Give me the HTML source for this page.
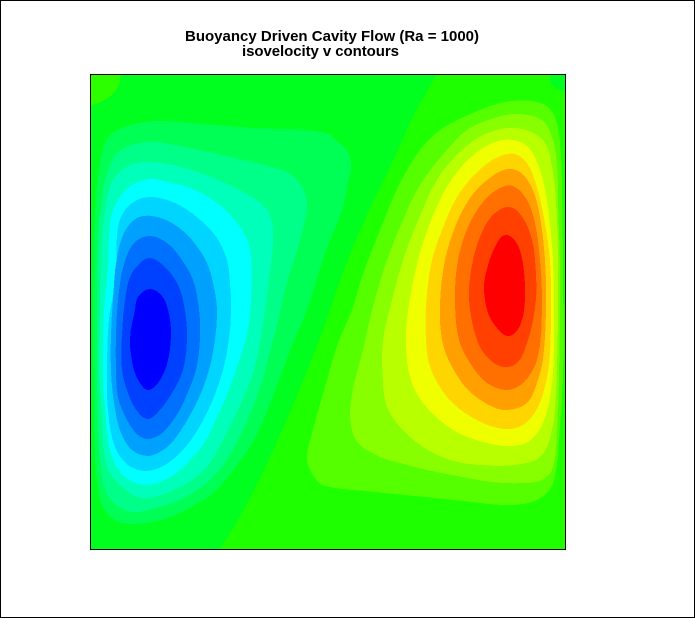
<!DOCTYPE html>
<html>
<head>
<meta charset="utf-8">
<title>Buoyancy Driven Cavity Flow</title>
<style>
html,body{margin:0;padding:0;background:#fff}
svg{display:block}
text{font-family:"Liberation Sans",Arial,sans-serif;font-weight:bold;font-size:15px;fill:#000}
</style>
</head>
<body>
<svg id="chart" xmlns="http://www.w3.org/2000/svg" width="695" height="618" viewBox="0 0 695 618">
  <rect x="0.5" y="0.5" width="694" height="617" fill="#fff" stroke="#000"/>
  <text x="185" y="41" textLength="294" lengthAdjust="spacing">Buoyancy Driven Cavity Flow (Ra = 1000)</text>
  <text x="242" y="56" textLength="157" lengthAdjust="spacing">isovelocity v contours</text>
  <g id="plot" shape-rendering="crispEdges"></g>
  <rect x="90.5" y="74.5" width="475" height="475" fill="none" stroke="#000"/>
</svg>
<script>
// Cavity coordinates are in grid units: x and y run 0..475, y measured upward from the floor.
const cavityDomain = [0, 475];

// Zero isoline, running from the floor to the lid.
const zeroLine = [[129,0],[151,36],[181,96],[207,156],[227,206],[239,239],[254,282],[277,336],[301,386],[324,436],[346,475]];
// Small corner cells.
const cornerLeftCurve = [[30,475],[27,462],[17,451],[0,443]];
const cornerRightCurve = [[459,475],[461,464],[475,457]];

// Negative v isolines (descending flow, left side), outermost to innermost.
const vNeg1 = [[17,411],[31,421],[54,427],[71,428],[111,425],[161,421],[234,416],[247,407],[257,397],[260,382],[257,366],[251,339],[234,296],[216,239],[202,206],[187,166],[173,130],[163,109],[147,85],[122,56],[100,42],[77,31],[44,25],[24,29],[12,42],[7,62],[4,89],[3,139],[2,206],[3,312],[6,362],[11,396]];
const vNeg2 = [[19,384],[27,397],[41,404],[61,407],[94,402],[144,391],[181,382],[201,374],[211,362],[216,347],[214,329],[207,302],[194,259],[188,232],[177,190],[165,150],[147,109],[125,75],[95,52],[61,40],[41,37],[24,45],[14,59],[10,79],[7,122],[6,206],[7,312],[11,352]];
const vNeg3 = [[14,339],[21,367],[31,379],[46,386],[61,387],[94,381],[127,369],[154,356],[174,342],[181,326],[182,306],[179,279],[174,239],[163,179],[150,146],[132,109],[114,80],[85,60],[51,51],[29,64],[16,82],[11,129],[8,179],[9,240],[10,292]];
const vNeg4 = [[17,279],[18,312],[21,336],[29,352],[41,364],[59,370],[77,367],[104,359],[131,342],[151,319],[159,299],[160,249],[156,215],[145,179],[134,150],[125,130],[115,109],[100,90],[81,73],[54,64],[34,72],[21,92],[14,139],[12,179],[13,240]];
const vNeg5 = [[25,272],[27,322],[34,339],[46,349],[61,352],[84,346],[107,331],[126,311],[136,289],[139,266],[140,240],[138,210],[132,179],[120,145],[100,109],[77,86],[56,78],[37,84],[24,102],[17,139],[16,179],[18,230]];
const vNeg6 = [[22,250],[26,292],[34,318],[46,331],[61,333],[81,326],[101,309],[116,286],[122,266],[126,240],[124,210],[118,179],[105,145],[83,109],[72,99],[57,93],[41,99],[30,116],[23,146],[20,179],[20,215]];
const vNeg7 = [[27,249],[33,285],[44,307],[59,313],[76,306],[91,289],[102,269],[108,240],[109,210],[105,179],[97,157],[87,136],[71,116],[57,110],[47,114],[36,129],[27,152],[25,179],[25,215]];
const vNeg8 = [[34,249],[39,272],[49,286],[59,291],[74,282],[86,266],[92,249],[96,215],[92,179],[81,156],[67,137],[56,130],[44,141],[36,159],[31,179],[31,215]];
const vNeg9 = [[44,239],[47,252],[59,260],[71,253],[77,239],[80,216],[76,185],[67,166],[57,159],[49,166],[43,179],[39,210]];

// Positive v isolines (rising flow, right side), outermost to innermost.
const vPos1 = [[261,239],[271,272],[289,319],[309,366],[329,399],[349,419],[384,437],[414,447],[441,448],[457,442],[465,429],[469,406],[471,362],[472,279],[472,172],[469,122],[464,72],[457,57],[441,47],[414,44],[381,47],[334,52],[284,57],[234,63],[227,67],[219,79],[216,92],[221,116],[234,162],[247,206]];
const vPos2 = [[281,239],[296,289],[309,322],[329,364],[356,399],[376,419],[400,430],[425,435],[451,429],[461,412],[466,386],[467,346],[469,279],[468,172],[466,122],[461,79],[451,69],[434,66],[401,67],[361,74],[336,79],[309,86],[289,92],[267,106],[261,119],[259,139],[264,169],[272,199]];
const vPos3 = [[300,245],[312,289],[326,326],[347,371],[369,397],[392,414],[425,421],[452,409],[461,382],[466,326],[467,239],[465,159],[461,119],[449,92],[422,84],[389,84],[359,89],[332,102],[309,122],[296,142],[292,166],[292,209]];
const vPos4 = [[318,245],[327,289],[339,326],[357,364],[379,391],[404,407],[422,409],[437,402],[449,379],[457,342],[462,289],[463,235],[461,166],[452,126],[437,107],[417,103],[392,107],[362,119],[332,146],[319,172],[315,209]];
const vPos5 = [[335,245],[341,289],[351,319],[366,352],[386,377],[407,392],[424,395],[436,386],[446,362],[454,326],[459,289],[460,240],[459,195],[456,172],[447,142],[432,124],[412,120],[382,131],[356,152],[339,182],[335,209]];
const vPos6 = [[349,245],[354,289],[364,322],[379,351],[396,369],[416,380],[429,377],[441,361],[449,332],[454,289],[455,240],[452,190],[447,169],[436,146],[417,139],[402,142],[377,159],[359,186],[351,209]];
const vPos7 = [[364,250],[367,289],[377,322],[392,347],[409,361],[422,363],[436,349],[444,326],[449,289],[451,245],[446,189],[432,166],[416,159],[396,166],[379,186],[368,209]];
const vPos8 = [[378,250],[382,289],[392,319],[404,336],[419,342],[432,331],[441,309],[444,289],[445,250],[437,209],[426,186],[412,182],[396,192],[386,209]];
const vPos9 = [[393,262],[396,280],[404,302],[414,314],[425,307],[432,285],[434,252],[431,229],[424,216],[416,213],[406,221],[397,236]];

const negativeContours = [vNeg1, vNeg2, vNeg3, vNeg4, vNeg5, vNeg6, vNeg7, vNeg8, vNeg9];
const positiveContours = [vPos1, vPos2, vPos3, vPos4, vPos5, vPos6, vPos7, vPos8, vPos9];

// Presentation only.
const plotBox = {left: 91, top: 74, width: 475, height: 475};
const negativeColors = ['#00ff55','#00ff88','#00ffbb','#00ffff','#00d5ff','#00a0ff','#0070ff','#0040ff','#0000ff'];
const positiveColors = ['#55ff00','#88ff00','#b8ff00','#f0ff00','#ffd500','#ffa000','#ff7000','#ff4000','#ff0000'];

const SVG_NS = 'http://www.w3.org/2000/svg';
const plot = document.getElementById('plot');
const xScale = v => plotBox.left + (v - cavityDomain[0]) / (cavityDomain[1] - cavityDomain[0]) * plotBox.width;
const yScale = v => plotBox.top + plotBox.height - (v - cavityDomain[0]) / (cavityDomain[1] - cavityDomain[0]) * plotBox.height;
const toScreen = p => [xScale(p[0]), yScale(p[1])];
const fmt = n => n.toFixed(2);
const dist = (a, b) => Math.hypot(b[0] - a[0], b[1] - a[1]) || 1e-6;

// Tangent direction at b, weighted so uneven point spacing does not kink the curve.
function tangent(a, b, c) {
  const d1 = Math.sqrt(dist(a, b)), d2 = Math.sqrt(dist(b, c));
  const tx = ((b[0] - a[0]) / d1 + (c[0] - b[0]) / d2);
  const ty = ((b[1] - a[1]) / d1 + (c[1] - b[1]) / d2);
  const len = Math.hypot(tx, ty) || 1e-6;
  return [tx / len, ty / len];
}

function segment(a, b, c, e) {
  const t1 = tangent(a, b, c), t2 = tangent(b, c, e), h = dist(b, c) / 3;
  return 'C' + fmt(b[0] + t1[0] * h) + ' ' + fmt(b[1] + t1[1] * h) + ' ' +
         fmt(c[0] - t2[0] * h) + ' ' + fmt(c[1] - t2[1] * h) + ' ' + fmt(c[0]) + ' ' + fmt(c[1]);
}

function openCurve(points) {
  const s = points.map(toScreen);
  let d = 'M' + fmt(s[0][0]) + ' ' + fmt(s[0][1]);
  for (let i = 0; i < s.length - 1; i++) {
    const a = i > 0 ? s[i - 1] : [2 * s[0][0] - s[1][0], 2 * s[0][1] - s[1][1]];
    const n = s.length - 1;
    const e = i + 2 <= n ? s[i + 2] : [2 * s[n][0] - s[n - 1][0], 2 * s[n][1] - s[n - 1][1]];
    d += segment(a, s[i], s[i + 1], e);
  }
  return d;
}

function closedCurve(points) {
  const s = points.map(toScreen), n = s.length;
  let d = 'M' + fmt(s[0][0]) + ' ' + fmt(s[0][1]);
  for (let i = 0; i < n; i++) {
    d += segment(s[(i - 1 + n) % n], s[i], s[(i + 1) % n], s[(i + 2) % n]);
  }
  return d + 'Z';
}

function withCorners(curve, corners) {
  let d = openCurve(curve);
  corners.forEach(p => {
    const q = toScreen(p);
    d += 'L' + fmt(q[0]) + ' ' + fmt(q[1]);
  });
  return d + 'Z';
}

function addBand(d, color) {
  const el = document.createElementNS(SVG_NS, 'path');
  el.setAttribute('d', d);
  el.setAttribute('fill', color);
  plot.appendChild(el);
  return el;
}

const lo = cavityDomain[0], hi = cavityDomain[1];

const baseBand = document.createElementNS(SVG_NS, 'rect');


baseBand.setAttribute('x', xScale(lo));
baseBand.setAttribute('y', yScale(hi));
baseBand.setAttribute('width', xScale(hi) - xScale(lo));
baseBand.setAttribute('height', yScale(lo) - yScale(hi));
baseBand.setAttribute('fill', '#00ff1e');
plot.appendChild(baseBand);

const zeroBand = addBand(withCorners(zeroLine, [[hi, hi], [hi, lo]]), '#1eff00');



const leftCorner = addBand(withCorners(cornerLeftCurve, [[lo, hi]]), '#2cff00');



const rightCorner = addBand(withCorners(cornerRightCurve, [[hi, hi]]), '#00ff1e');



negativeContours.forEach((points, i) => {
  const band = addBand(closedCurve(points), negativeColors[i]);
  
  
});

positiveContours.forEach((points, i) => {
  const band = addBand(closedCurve(points), positiveColors[i]);
  
  
});
</script>
</body>
</html>
